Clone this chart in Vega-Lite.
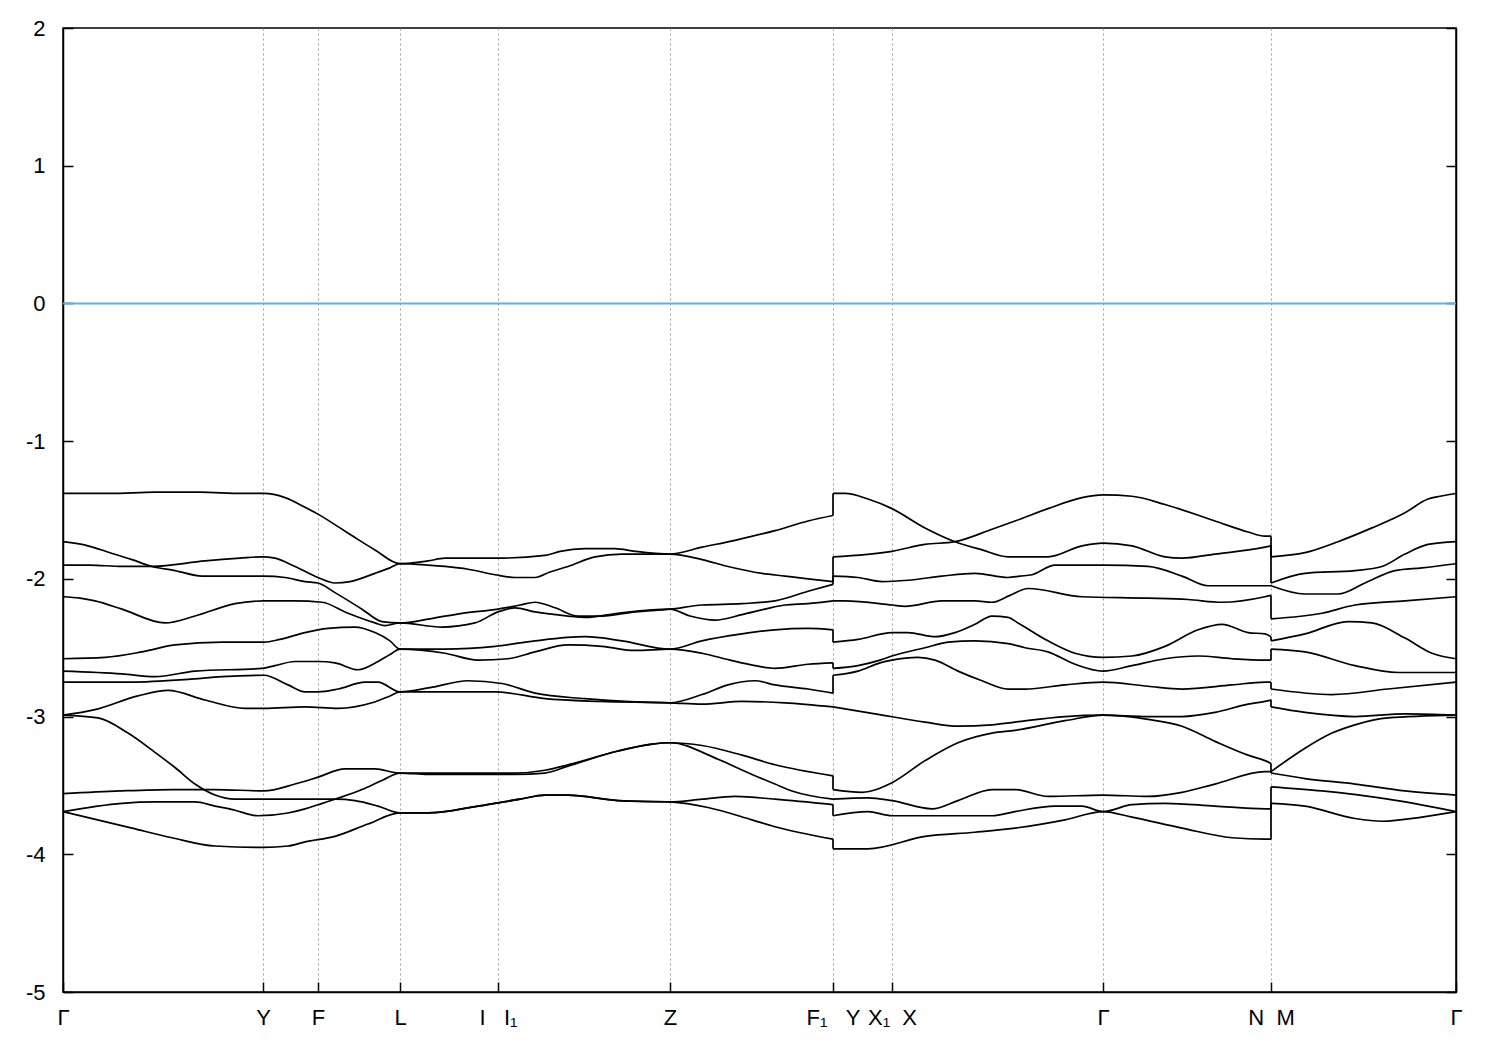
{
"$schema":"https://vega.github.io/schema/vega-lite/v6.json",
"width":1393,"height":964,
"autosize":{"type":"none"},
"padding":{"left":63,"top":28,"right":44,"bottom":58},
"background":"white",
"config":{"view":{"stroke":"black","strokeWidth":1.5}},
"layer":[
{
"data":{"values":[
{"b":1,"s":1,"k":0,"e":-1.38},{"b":1,"s":1,"k":47,"e":-1.38},{"b":1,"s":1,"k":92,"e":-1.37},{"b":1,"s":1,"k":137,"e":-1.37},{"b":1,"s":1,"k":179,"e":-1.38},{"b":1,"s":1,"k":201,"e":-1.38},{"b":1,"s":1,"k":222,"e":-1.41},{"b":1,"s":1,"k":242,"e":-1.48},{"b":1,"s":1,"k":255,"e":-1.53},{"b":1,"s":1,"k":277,"e":-1.63},{"b":1,"s":1,"k":292,"e":-1.70},{"b":1,"s":1,"k":312,"e":-1.79},{"b":1,"s":1,"k":337,"e":-1.89},{"b":1,"s":1,"k":365,"e":-1.87},{"b":1,"s":1,"k":382,"e":-1.85},{"b":1,"s":1,"k":432,"e":-1.85},{"b":1,"s":1,"k":482,"e":-1.83},{"b":1,"s":1,"k":497,"e":-1.80},{"b":1,"s":1,"k":522,"e":-1.78},{"b":1,"s":1,"k":552,"e":-1.78},{"b":1,"s":1,"k":572,"e":-1.80},{"b":1,"s":1,"k":607,"e":-1.82},{"b":1,"s":1,"k":639,"e":-1.77},{"b":1,"s":1,"k":672,"e":-1.72},{"b":1,"s":1,"k":712,"e":-1.65},{"b":1,"s":1,"k":745,"e":-1.58},{"b":1,"s":1,"k":770,"e":-1.54},
{"b":1,"s":2,"k":770,"e":-1.38},{"b":1,"s":2,"k":782,"e":-1.38},{"b":1,"s":2,"k":805,"e":-1.42},{"b":1,"s":2,"k":829,"e":-1.49},{"b":1,"s":2,"k":862,"e":-1.63},{"b":1,"s":2,"k":892,"e":-1.73},{"b":1,"s":2,"k":919,"e":-1.79},{"b":1,"s":2,"k":945,"e":-1.84},{"b":1,"s":2,"k":985,"e":-1.84},{"b":1,"s":2,"k":1019,"e":-1.76},{"b":1,"s":2,"k":1040,"e":-1.74},{"b":1,"s":2,"k":1069,"e":-1.76},{"b":1,"s":2,"k":1102,"e":-1.84},{"b":1,"s":2,"k":1119,"e":-1.85},{"b":1,"s":2,"k":1152,"e":-1.82},{"b":1,"s":2,"k":1202,"e":-1.77},{"b":1,"s":2,"k":1208,"e":-1.76},
{"b":1,"s":3,"k":1208,"e":-2.03},{"b":1,"s":3,"k":1242,"e":-1.96},{"b":1,"s":3,"k":1292,"e":-1.94},{"b":1,"s":3,"k":1319,"e":-1.91},{"b":1,"s":3,"k":1342,"e":-1.82},{"b":1,"s":3,"k":1365,"e":-1.75},{"b":1,"s":3,"k":1393,"e":-1.73},
{"b":2,"s":1,"k":0,"e":-1.90},{"b":2,"s":1,"k":27,"e":-1.90},{"b":2,"s":1,"k":59,"e":-1.91},{"b":2,"s":1,"k":89,"e":-1.91},{"b":2,"s":1,"k":142,"e":-1.87},{"b":2,"s":1,"k":177,"e":-1.85},{"b":2,"s":1,"k":199,"e":-1.84},{"b":2,"s":1,"k":212,"e":-1.85},{"b":2,"s":1,"k":232,"e":-1.91},{"b":2,"s":1,"k":255,"e":-1.99},{"b":2,"s":1,"k":272,"e":-2.03},{"b":2,"s":1,"k":287,"e":-2.02},{"b":2,"s":1,"k":312,"e":-1.96},{"b":2,"s":1,"k":327,"e":-1.92},{"b":2,"s":1,"k":337,"e":-1.89},{"b":2,"s":1,"k":365,"e":-1.90},{"b":2,"s":1,"k":382,"e":-1.91},{"b":2,"s":1,"k":405,"e":-1.93},{"b":2,"s":1,"k":432,"e":-1.97},{"b":2,"s":1,"k":452,"e":-1.99},{"b":2,"s":1,"k":472,"e":-1.99},{"b":2,"s":1,"k":487,"e":-1.95},{"b":2,"s":1,"k":505,"e":-1.91},{"b":2,"s":1,"k":532,"e":-1.84},{"b":2,"s":1,"k":559,"e":-1.82},{"b":2,"s":1,"k":607,"e":-1.82},{"b":2,"s":1,"k":639,"e":-1.86},{"b":2,"s":1,"k":665,"e":-1.91},{"b":2,"s":1,"k":699,"e":-1.96},{"b":2,"s":1,"k":722,"e":-1.98},{"b":2,"s":1,"k":745,"e":-2.00},{"b":2,"s":1,"k":770,"e":-2.02},
{"b":2,"s":2,"k":770,"e":-1.84},{"b":2,"s":2,"k":829,"e":-1.80},{"b":2,"s":2,"k":862,"e":-1.75},{"b":2,"s":2,"k":892,"e":-1.73},{"b":2,"s":2,"k":929,"e":-1.64},{"b":2,"s":2,"k":952,"e":-1.58},{"b":2,"s":2,"k":985,"e":-1.49},{"b":2,"s":2,"k":1019,"e":-1.41},{"b":2,"s":2,"k":1040,"e":-1.39},{"b":2,"s":2,"k":1069,"e":-1.40},{"b":2,"s":2,"k":1102,"e":-1.46},{"b":2,"s":2,"k":1152,"e":-1.58},{"b":2,"s":2,"k":1185,"e":-1.66},{"b":2,"s":2,"k":1202,"e":-1.69},{"b":2,"s":2,"k":1208,"e":-1.69},
{"b":2,"s":3,"k":1208,"e":-1.84},{"b":2,"s":3,"k":1242,"e":-1.81},{"b":2,"s":3,"k":1275,"e":-1.73},{"b":2,"s":3,"k":1309,"e":-1.63},{"b":2,"s":3,"k":1342,"e":-1.52},{"b":2,"s":3,"k":1365,"e":-1.42},{"b":2,"s":3,"k":1377,"e":-1.40},{"b":2,"s":3,"k":1393,"e":-1.38},
{"b":3,"s":1,"k":0,"e":-1.73},{"b":3,"s":1,"k":25,"e":-1.76},{"b":3,"s":1,"k":47,"e":-1.81},{"b":3,"s":1,"k":69,"e":-1.86},{"b":3,"s":1,"k":89,"e":-1.91},{"b":3,"s":1,"k":112,"e":-1.94},{"b":3,"s":1,"k":139,"e":-1.98},{"b":3,"s":1,"k":201,"e":-1.98},{"b":3,"s":1,"k":222,"e":-1.99},{"b":3,"s":1,"k":242,"e":-2.02},{"b":3,"s":1,"k":255,"e":-2.03},{"b":3,"s":1,"k":272,"e":-2.10},{"b":3,"s":1,"k":299,"e":-2.22},{"b":3,"s":1,"k":319,"e":-2.31},{"b":3,"s":1,"k":337,"e":-2.32},{"b":3,"s":1,"k":367,"e":-2.29},{"b":3,"s":1,"k":399,"e":-2.25},{"b":3,"s":1,"k":435,"e":-2.22},{"b":3,"s":1,"k":457,"e":-2.19},{"b":3,"s":1,"k":472,"e":-2.17},{"b":3,"s":1,"k":492,"e":-2.21},{"b":3,"s":1,"k":515,"e":-2.27},{"b":3,"s":1,"k":539,"e":-2.27},{"b":3,"s":1,"k":572,"e":-2.24},{"b":3,"s":1,"k":607,"e":-2.22},{"b":3,"s":1,"k":639,"e":-2.19},{"b":3,"s":1,"k":679,"e":-2.18},{"b":3,"s":1,"k":712,"e":-2.16},{"b":3,"s":1,"k":745,"e":-2.09},{"b":3,"s":1,"k":770,"e":-2.04},
{"b":3,"s":2,"k":770,"e":-1.98},{"b":3,"s":2,"k":795,"e":-1.99},{"b":3,"s":2,"k":819,"e":-2.02},{"b":3,"s":2,"k":845,"e":-2.01},{"b":3,"s":2,"k":879,"e":-1.98},{"b":3,"s":2,"k":912,"e":-1.96},{"b":3,"s":2,"k":945,"e":-1.99},{"b":3,"s":2,"k":957,"e":-1.98},{"b":3,"s":2,"k":969,"e":-1.97},{"b":3,"s":2,"k":992,"e":-1.90},{"b":3,"s":2,"k":1040,"e":-1.90},{"b":3,"s":2,"k":1085,"e":-1.91},{"b":3,"s":2,"k":1119,"e":-1.98},{"b":3,"s":2,"k":1145,"e":-2.05},{"b":3,"s":2,"k":1202,"e":-2.05},{"b":3,"s":2,"k":1208,"e":-2.05},
{"b":3,"s":3,"k":1208,"e":-2.05},{"b":3,"s":3,"k":1242,"e":-2.11},{"b":3,"s":3,"k":1275,"e":-2.11},{"b":3,"s":3,"k":1302,"e":-2.03},{"b":3,"s":3,"k":1332,"e":-1.94},{"b":3,"s":3,"k":1359,"e":-1.92},{"b":3,"s":3,"k":1393,"e":-1.89},
{"b":4,"s":1,"k":0,"e":-2.13},{"b":4,"s":1,"k":17,"e":-2.14},{"b":4,"s":1,"k":32,"e":-2.16},{"b":4,"s":1,"k":59,"e":-2.22},{"b":4,"s":1,"k":102,"e":-2.32},{"b":4,"s":1,"k":132,"e":-2.27},{"b":4,"s":1,"k":172,"e":-2.18},{"b":4,"s":1,"k":201,"e":-2.16},{"b":4,"s":1,"k":232,"e":-2.16},{"b":4,"s":1,"k":259,"e":-2.17},{"b":4,"s":1,"k":285,"e":-2.25},{"b":4,"s":1,"k":312,"e":-2.32},{"b":4,"s":1,"k":322,"e":-2.34},{"b":4,"s":1,"k":337,"e":-2.32},{"b":4,"s":1,"k":379,"e":-2.35},{"b":4,"s":1,"k":412,"e":-2.32},{"b":4,"s":1,"k":435,"e":-2.24},{"b":4,"s":1,"k":452,"e":-2.21},{"b":4,"s":1,"k":472,"e":-2.24},{"b":4,"s":1,"k":505,"e":-2.27},{"b":4,"s":1,"k":522,"e":-2.28},{"b":4,"s":1,"k":555,"e":-2.25},{"b":4,"s":1,"k":607,"e":-2.22},{"b":4,"s":1,"k":627,"e":-2.27},{"b":4,"s":1,"k":652,"e":-2.30},{"b":4,"s":1,"k":679,"e":-2.26},{"b":4,"s":1,"k":702,"e":-2.22},{"b":4,"s":1,"k":722,"e":-2.19},{"b":4,"s":1,"k":745,"e":-2.18},{"b":4,"s":1,"k":770,"e":-2.16},
{"b":4,"s":2,"k":770,"e":-2.16},{"b":4,"s":2,"k":782,"e":-2.16},{"b":4,"s":2,"k":829,"e":-2.19},{"b":4,"s":2,"k":842,"e":-2.20},{"b":4,"s":2,"k":879,"e":-2.16},{"b":4,"s":2,"k":912,"e":-2.16},{"b":4,"s":2,"k":929,"e":-2.17},{"b":4,"s":2,"k":947,"e":-2.12},{"b":4,"s":2,"k":965,"e":-2.07},{"b":4,"s":2,"k":1019,"e":-2.13},{"b":4,"s":2,"k":1085,"e":-2.14},{"b":4,"s":2,"k":1125,"e":-2.15},{"b":4,"s":2,"k":1159,"e":-2.17},{"b":4,"s":2,"k":1202,"e":-2.13},{"b":4,"s":2,"k":1208,"e":-2.12},
{"b":4,"s":3,"k":1208,"e":-2.29},{"b":4,"s":3,"k":1259,"e":-2.25},{"b":4,"s":3,"k":1292,"e":-2.19},{"b":4,"s":3,"k":1342,"e":-2.16},{"b":4,"s":3,"k":1393,"e":-2.13},
{"b":5,"s":1,"k":0,"e":-2.58},{"b":5,"s":1,"k":42,"e":-2.57},{"b":5,"s":1,"k":79,"e":-2.53},{"b":5,"s":1,"k":112,"e":-2.48},{"b":5,"s":1,"k":159,"e":-2.46},{"b":5,"s":1,"k":201,"e":-2.46},{"b":5,"s":1,"k":217,"e":-2.44},{"b":5,"s":1,"k":242,"e":-2.39},{"b":5,"s":1,"k":265,"e":-2.36},{"b":5,"s":1,"k":292,"e":-2.35},{"b":5,"s":1,"k":312,"e":-2.39},{"b":5,"s":1,"k":327,"e":-2.45},{"b":5,"s":1,"k":337,"e":-2.51},{"b":5,"s":1,"k":382,"e":-2.51},{"b":5,"s":1,"k":432,"e":-2.49},{"b":5,"s":1,"k":472,"e":-2.45},{"b":5,"s":1,"k":522,"e":-2.42},{"b":5,"s":1,"k":559,"e":-2.45},{"b":5,"s":1,"k":607,"e":-2.51},{"b":5,"s":1,"k":639,"e":-2.45},{"b":5,"s":1,"k":679,"e":-2.40},{"b":5,"s":1,"k":712,"e":-2.37},{"b":5,"s":1,"k":745,"e":-2.36},{"b":5,"s":1,"k":770,"e":-2.37},
{"b":5,"s":2,"k":770,"e":-2.46},{"b":5,"s":2,"k":795,"e":-2.44},{"b":5,"s":2,"k":829,"e":-2.39},{"b":5,"s":2,"k":845,"e":-2.39},{"b":5,"s":2,"k":872,"e":-2.42},{"b":5,"s":2,"k":892,"e":-2.39},{"b":5,"s":2,"k":912,"e":-2.33},{"b":5,"s":2,"k":929,"e":-2.27},{"b":5,"s":2,"k":945,"e":-2.28},{"b":5,"s":2,"k":955,"e":-2.32},{"b":5,"s":2,"k":985,"e":-2.45},{"b":5,"s":2,"k":1012,"e":-2.54},{"b":5,"s":2,"k":1040,"e":-2.57},{"b":5,"s":2,"k":1069,"e":-2.56},{"b":5,"s":2,"k":1102,"e":-2.49},{"b":5,"s":2,"k":1135,"e":-2.37},{"b":5,"s":2,"k":1159,"e":-2.33},{"b":5,"s":2,"k":1185,"e":-2.39},{"b":5,"s":2,"k":1202,"e":-2.40},{"b":5,"s":2,"k":1208,"e":-2.42},
{"b":5,"s":3,"k":1208,"e":-2.45},{"b":5,"s":3,"k":1242,"e":-2.40},{"b":5,"s":3,"k":1285,"e":-2.31},{"b":5,"s":3,"k":1309,"e":-2.32},{"b":5,"s":3,"k":1342,"e":-2.43},{"b":5,"s":3,"k":1369,"e":-2.54},{"b":5,"s":3,"k":1393,"e":-2.58},
{"b":6,"s":1,"k":0,"e":-2.67},{"b":6,"s":1,"k":59,"e":-2.69},{"b":6,"s":1,"k":92,"e":-2.71},{"b":6,"s":1,"k":132,"e":-2.67},{"b":6,"s":1,"k":199,"e":-2.65},{"b":6,"s":1,"k":212,"e":-2.63},{"b":6,"s":1,"k":232,"e":-2.60},{"b":6,"s":1,"k":255,"e":-2.60},{"b":6,"s":1,"k":272,"e":-2.61},{"b":6,"s":1,"k":295,"e":-2.66},{"b":6,"s":1,"k":315,"e":-2.60},{"b":6,"s":1,"k":327,"e":-2.55},{"b":6,"s":1,"k":337,"e":-2.51},{"b":6,"s":1,"k":382,"e":-2.54},{"b":6,"s":1,"k":415,"e":-2.59},{"b":6,"s":1,"k":445,"e":-2.58},{"b":6,"s":1,"k":472,"e":-2.53},{"b":6,"s":1,"k":505,"e":-2.48},{"b":6,"s":1,"k":539,"e":-2.49},{"b":6,"s":1,"k":572,"e":-2.52},{"b":6,"s":1,"k":607,"e":-2.51},{"b":6,"s":1,"k":639,"e":-2.54},{"b":6,"s":1,"k":667,"e":-2.59},{"b":6,"s":1,"k":692,"e":-2.63},{"b":6,"s":1,"k":712,"e":-2.65},{"b":6,"s":1,"k":745,"e":-2.62},{"b":6,"s":1,"k":770,"e":-2.61},
{"b":6,"s":2,"k":770,"e":-2.65},{"b":6,"s":2,"k":795,"e":-2.63},{"b":6,"s":2,"k":817,"e":-2.59},{"b":6,"s":2,"k":829,"e":-2.56},{"b":6,"s":2,"k":862,"e":-2.50},{"b":6,"s":2,"k":885,"e":-2.46},{"b":6,"s":2,"k":912,"e":-2.45},{"b":6,"s":2,"k":945,"e":-2.47},{"b":6,"s":2,"k":962,"e":-2.50},{"b":6,"s":2,"k":985,"e":-2.53},{"b":6,"s":2,"k":1012,"e":-2.62},{"b":6,"s":2,"k":1040,"e":-2.67},{"b":6,"s":2,"k":1069,"e":-2.63},{"b":6,"s":2,"k":1102,"e":-2.58},{"b":6,"s":2,"k":1135,"e":-2.56},{"b":6,"s":2,"k":1169,"e":-2.58},{"b":6,"s":2,"k":1202,"e":-2.59},{"b":6,"s":2,"k":1208,"e":-2.59},
{"b":6,"s":3,"k":1208,"e":-2.51},{"b":6,"s":3,"k":1242,"e":-2.53},{"b":6,"s":3,"k":1292,"e":-2.63},{"b":6,"s":3,"k":1335,"e":-2.68},{"b":6,"s":3,"k":1393,"e":-2.68},
{"b":7,"s":1,"k":0,"e":-2.75},{"b":7,"s":1,"k":67,"e":-2.75},{"b":7,"s":1,"k":125,"e":-2.73},{"b":7,"s":1,"k":159,"e":-2.71},{"b":7,"s":1,"k":201,"e":-2.70},{"b":7,"s":1,"k":225,"e":-2.77},{"b":7,"s":1,"k":242,"e":-2.82},{"b":7,"s":1,"k":255,"e":-2.82},{"b":7,"s":1,"k":275,"e":-2.80},{"b":7,"s":1,"k":302,"e":-2.75},{"b":7,"s":1,"k":315,"e":-2.75},{"b":7,"s":1,"k":337,"e":-2.82},{"b":7,"s":1,"k":367,"e":-2.79},{"b":7,"s":1,"k":405,"e":-2.74},{"b":7,"s":1,"k":439,"e":-2.76},{"b":7,"s":1,"k":472,"e":-2.83},{"b":7,"s":1,"k":522,"e":-2.87},{"b":7,"s":1,"k":607,"e":-2.90},{"b":7,"s":1,"k":639,"e":-2.84},{"b":7,"s":1,"k":665,"e":-2.77},{"b":7,"s":1,"k":692,"e":-2.74},{"b":7,"s":1,"k":712,"e":-2.77},{"b":7,"s":1,"k":745,"e":-2.80},{"b":7,"s":1,"k":770,"e":-2.83},
{"b":7,"s":2,"k":770,"e":-2.70},{"b":7,"s":2,"k":795,"e":-2.67},{"b":7,"s":2,"k":817,"e":-2.61},{"b":7,"s":2,"k":829,"e":-2.59},{"b":7,"s":2,"k":855,"e":-2.57},{"b":7,"s":2,"k":872,"e":-2.59},{"b":7,"s":2,"k":895,"e":-2.67},{"b":7,"s":2,"k":919,"e":-2.74},{"b":7,"s":2,"k":945,"e":-2.80},{"b":7,"s":2,"k":962,"e":-2.80},{"b":7,"s":2,"k":1002,"e":-2.77},{"b":7,"s":2,"k":1040,"e":-2.75},{"b":7,"s":2,"k":1085,"e":-2.78},{"b":7,"s":2,"k":1119,"e":-2.80},{"b":7,"s":2,"k":1169,"e":-2.77},{"b":7,"s":2,"k":1202,"e":-2.75},{"b":7,"s":2,"k":1208,"e":-2.75},
{"b":7,"s":3,"k":1208,"e":-2.80},{"b":7,"s":3,"k":1269,"e":-2.84},{"b":7,"s":3,"k":1325,"e":-2.80},{"b":7,"s":3,"k":1393,"e":-2.75},
{"b":8,"s":1,"k":0,"e":-2.99},{"b":8,"s":1,"k":32,"e":-2.95},{"b":8,"s":1,"k":75,"e":-2.85},{"b":8,"s":1,"k":105,"e":-2.81},{"b":8,"s":1,"k":142,"e":-2.88},{"b":8,"s":1,"k":182,"e":-2.94},{"b":8,"s":1,"k":201,"e":-2.94},{"b":8,"s":1,"k":242,"e":-2.93},{"b":8,"s":1,"k":275,"e":-2.94},{"b":8,"s":1,"k":309,"e":-2.90},{"b":8,"s":1,"k":327,"e":-2.85},{"b":8,"s":1,"k":337,"e":-2.82},{"b":8,"s":1,"k":382,"e":-2.82},{"b":8,"s":1,"k":432,"e":-2.82},{"b":8,"s":1,"k":482,"e":-2.87},{"b":8,"s":1,"k":537,"e":-2.89},{"b":8,"s":1,"k":607,"e":-2.90},{"b":8,"s":1,"k":639,"e":-2.91},{"b":8,"s":1,"k":679,"e":-2.89},{"b":8,"s":1,"k":722,"e":-2.90},{"b":8,"s":1,"k":770,"e":-2.93},
{"b":8,"s":2,"k":770,"e":-2.93},{"b":8,"s":2,"k":812,"e":-2.98},{"b":8,"s":2,"k":862,"e":-3.04},{"b":8,"s":2,"k":895,"e":-3.07},{"b":8,"s":2,"k":929,"e":-3.06},{"b":8,"s":2,"k":952,"e":-3.04},{"b":8,"s":2,"k":1002,"e":-3.00},{"b":8,"s":2,"k":1040,"e":-2.99},{"b":8,"s":2,"k":1085,"e":-3.00},{"b":8,"s":2,"k":1119,"e":-3.00},{"b":8,"s":2,"k":1152,"e":-2.97},{"b":8,"s":2,"k":1185,"e":-2.91},{"b":8,"s":2,"k":1202,"e":-2.89},{"b":8,"s":2,"k":1208,"e":-2.88},
{"b":8,"s":3,"k":1208,"e":-2.93},{"b":8,"s":3,"k":1242,"e":-2.97},{"b":8,"s":3,"k":1292,"e":-3.00},{"b":8,"s":3,"k":1342,"e":-2.98},{"b":8,"s":3,"k":1393,"e":-2.99},
{"b":9,"s":1,"k":0,"e":-3.56},{"b":9,"s":1,"k":57,"e":-3.54},{"b":9,"s":1,"k":109,"e":-3.53},{"b":9,"s":1,"k":152,"e":-3.53},{"b":9,"s":1,"k":201,"e":-3.54},{"b":9,"s":1,"k":232,"e":-3.49},{"b":9,"s":1,"k":242,"e":-3.47},{"b":9,"s":1,"k":255,"e":-3.44},{"b":9,"s":1,"k":282,"e":-3.38},{"b":9,"s":1,"k":312,"e":-3.38},{"b":9,"s":1,"k":337,"e":-3.41},{"b":9,"s":1,"k":365,"e":-3.41},{"b":9,"s":1,"k":452,"e":-3.41},{"b":9,"s":1,"k":482,"e":-3.39},{"b":9,"s":1,"k":505,"e":-3.35},{"b":9,"s":1,"k":555,"e":-3.25},{"b":9,"s":1,"k":589,"e":-3.20},{"b":9,"s":1,"k":607,"e":-3.19},{"b":9,"s":1,"k":639,"e":-3.21},{"b":9,"s":1,"k":679,"e":-3.28},{"b":9,"s":1,"k":712,"e":-3.35},{"b":9,"s":1,"k":770,"e":-3.43},
{"b":9,"s":2,"k":770,"e":-3.53},{"b":9,"s":2,"k":799,"e":-3.55},{"b":9,"s":2,"k":829,"e":-3.48},{"b":9,"s":2,"k":862,"e":-3.32},{"b":9,"s":2,"k":895,"e":-3.19},{"b":9,"s":2,"k":929,"e":-3.12},{"b":9,"s":2,"k":952,"e":-3.10},{"b":9,"s":2,"k":1002,"e":-3.03},{"b":9,"s":2,"k":1040,"e":-2.99},{"b":9,"s":2,"k":1085,"e":-3.02},{"b":9,"s":2,"k":1119,"e":-3.07},{"b":9,"s":2,"k":1152,"e":-3.18},{"b":9,"s":2,"k":1185,"e":-3.28},{"b":9,"s":2,"k":1202,"e":-3.32},{"b":9,"s":2,"k":1208,"e":-3.34},
{"b":9,"s":3,"k":1208,"e":-3.40},{"b":9,"s":3,"k":1242,"e":-3.23},{"b":9,"s":3,"k":1269,"e":-3.12},{"b":9,"s":3,"k":1292,"e":-3.06},{"b":9,"s":3,"k":1325,"e":-3.01},{"b":9,"s":3,"k":1393,"e":-2.99},
{"b":10,"s":1,"k":0,"e":-3.69},{"b":10,"s":1,"k":59,"e":-3.63},{"b":10,"s":1,"k":92,"e":-3.62},{"b":10,"s":1,"k":132,"e":-3.62},{"b":10,"s":1,"k":152,"e":-3.65},{"b":10,"s":1,"k":172,"e":-3.68},{"b":10,"s":1,"k":195,"e":-3.72},{"b":10,"s":1,"k":225,"e":-3.70},{"b":10,"s":1,"k":242,"e":-3.67},{"b":10,"s":1,"k":255,"e":-3.64},{"b":10,"s":1,"k":272,"e":-3.60},{"b":10,"s":1,"k":299,"e":-3.53},{"b":10,"s":1,"k":320,"e":-3.46},{"b":10,"s":1,"k":337,"e":-3.41},{"b":10,"s":1,"k":365,"e":-3.42},{"b":10,"s":1,"k":452,"e":-3.42},{"b":10,"s":1,"k":482,"e":-3.41},{"b":10,"s":1,"k":505,"e":-3.36},{"b":10,"s":1,"k":555,"e":-3.25},{"b":10,"s":1,"k":589,"e":-3.20},{"b":10,"s":1,"k":607,"e":-3.19},{"b":10,"s":1,"k":655,"e":-3.31},{"b":10,"s":1,"k":689,"e":-3.42},{"b":10,"s":1,"k":712,"e":-3.49},{"b":10,"s":1,"k":729,"e":-3.54},{"b":10,"s":1,"k":770,"e":-3.60},
{"b":10,"s":2,"k":770,"e":-3.60},{"b":10,"s":2,"k":805,"e":-3.59},{"b":10,"s":2,"k":829,"e":-3.61},{"b":10,"s":2,"k":869,"e":-3.67},{"b":10,"s":2,"k":895,"e":-3.61},{"b":10,"s":2,"k":929,"e":-3.53},{"b":10,"s":2,"k":952,"e":-3.53},{"b":10,"s":2,"k":985,"e":-3.58},{"b":10,"s":2,"k":1040,"e":-3.57},{"b":10,"s":2,"k":1085,"e":-3.58},{"b":10,"s":2,"k":1119,"e":-3.55},{"b":10,"s":2,"k":1152,"e":-3.49},{"b":10,"s":2,"k":1202,"e":-3.40},{"b":10,"s":2,"k":1208,"e":-3.40},
{"b":10,"s":3,"k":1208,"e":-3.41},{"b":10,"s":3,"k":1242,"e":-3.45},{"b":10,"s":3,"k":1292,"e":-3.49},{"b":10,"s":3,"k":1342,"e":-3.54},{"b":10,"s":3,"k":1393,"e":-3.57},
{"b":11,"s":1,"k":0,"e":-3.69},{"b":11,"s":1,"k":69,"e":-3.81},{"b":11,"s":1,"k":109,"e":-3.88},{"b":11,"s":1,"k":152,"e":-3.94},{"b":11,"s":1,"k":201,"e":-3.95},{"b":11,"s":1,"k":225,"e":-3.94},{"b":11,"s":1,"k":242,"e":-3.91},{"b":11,"s":1,"k":272,"e":-3.87},{"b":11,"s":1,"k":305,"e":-3.78},{"b":11,"s":1,"k":337,"e":-3.70},{"b":11,"s":1,"k":365,"e":-3.70},{"b":11,"s":1,"k":415,"e":-3.65},{"b":11,"s":1,"k":457,"e":-3.60},{"b":11,"s":1,"k":482,"e":-3.57},{"b":11,"s":1,"k":505,"e":-3.57},{"b":11,"s":1,"k":555,"e":-3.61},{"b":11,"s":1,"k":607,"e":-3.62},{"b":11,"s":1,"k":639,"e":-3.60},{"b":11,"s":1,"k":672,"e":-3.58},{"b":11,"s":1,"k":712,"e":-3.60},{"b":11,"s":1,"k":770,"e":-3.64},
{"b":11,"s":2,"k":770,"e":-3.72},{"b":11,"s":2,"k":805,"e":-3.69},{"b":11,"s":2,"k":829,"e":-3.72},{"b":11,"s":2,"k":879,"e":-3.72},{"b":11,"s":2,"k":929,"e":-3.72},{"b":11,"s":2,"k":952,"e":-3.69},{"b":11,"s":2,"k":992,"e":-3.65},{"b":11,"s":2,"k":1019,"e":-3.65},{"b":11,"s":2,"k":1040,"e":-3.69},{"b":11,"s":2,"k":1069,"e":-3.64},{"b":11,"s":2,"k":1102,"e":-3.63},{"b":11,"s":2,"k":1152,"e":-3.65},{"b":11,"s":2,"k":1202,"e":-3.67},{"b":11,"s":2,"k":1208,"e":-3.67},
{"b":11,"s":3,"k":1208,"e":-3.51},{"b":11,"s":3,"k":1259,"e":-3.54},{"b":11,"s":3,"k":1325,"e":-3.60},{"b":11,"s":3,"k":1393,"e":-3.69},
{"b":12,"s":1,"k":0,"e":-2.99},{"b":12,"s":1,"k":35,"e":-3.01},{"b":12,"s":1,"k":65,"e":-3.12},{"b":12,"s":1,"k":92,"e":-3.26},{"b":12,"s":1,"k":112,"e":-3.37},{"b":12,"s":1,"k":132,"e":-3.49},{"b":12,"s":1,"k":152,"e":-3.57},{"b":12,"s":1,"k":172,"e":-3.60},{"b":12,"s":1,"k":201,"e":-3.60},{"b":12,"s":1,"k":232,"e":-3.60},{"b":12,"s":1,"k":272,"e":-3.60},{"b":12,"s":1,"k":292,"e":-3.61},{"b":12,"s":1,"k":315,"e":-3.65},{"b":12,"s":1,"k":337,"e":-3.70},{"b":12,"s":1,"k":365,"e":-3.70},{"b":12,"s":1,"k":415,"e":-3.65},{"b":12,"s":1,"k":457,"e":-3.60},{"b":12,"s":1,"k":482,"e":-3.57},{"b":12,"s":1,"k":505,"e":-3.57},{"b":12,"s":1,"k":555,"e":-3.61},{"b":12,"s":1,"k":607,"e":-3.62},{"b":12,"s":1,"k":645,"e":-3.66},{"b":12,"s":1,"k":689,"e":-3.75},{"b":12,"s":1,"k":712,"e":-3.80},{"b":12,"s":1,"k":770,"e":-3.89},
{"b":12,"s":2,"k":770,"e":-3.96},{"b":12,"s":2,"k":805,"e":-3.96},{"b":12,"s":2,"k":862,"e":-3.87},{"b":12,"s":2,"k":912,"e":-3.84},{"b":12,"s":2,"k":952,"e":-3.81},{"b":12,"s":2,"k":1002,"e":-3.75},{"b":12,"s":2,"k":1040,"e":-3.69},{"b":12,"s":2,"k":1069,"e":-3.73},{"b":12,"s":2,"k":1119,"e":-3.81},{"b":12,"s":2,"k":1169,"e":-3.88},{"b":12,"s":2,"k":1202,"e":-3.89},{"b":12,"s":2,"k":1208,"e":-3.89},
{"b":12,"s":3,"k":1208,"e":-3.63},{"b":12,"s":3,"k":1242,"e":-3.65},{"b":12,"s":3,"k":1292,"e":-3.74},{"b":12,"s":3,"k":1319,"e":-3.76},{"b":12,"s":3,"k":1359,"e":-3.73},{"b":12,"s":3,"k":1393,"e":-3.69}
]},
"mark":{"type":"line","color":"black","strokeWidth":1.7,"interpolate":"monotone"},
"encoding":{
"x":{"field":"k","type":"quantitative","scale":{"domain":[0,1393],"nice":false,"zero":false},
"axis":{"values":[0,200,255,337,435,607,770,829,1040,1208,1393],
"labelExpr":"(datum.value==0||datum.value==1040||datum.value==1393)?'Γ':datum.value==200?'Y':datum.value==255?'F':datum.value==337?'L':datum.value==435?'I\u00a0\u00a0\u00a0I₁':datum.value==607?'Z':datum.value==770?'F₁\u00a0\u00a0\u00a0Y\u00a0':datum.value==829?'X₁\u00a0\u00a0X\u00a0':datum.value==1208?'N\u00a0\u00a0M':''",
"title":null,"grid":true,"gridColor":"#a0a0a0","gridDash":[2,3],"gridWidth":1,
"tickSize":-10,"tickColor":"black","tickWidth":1.5,"domainColor":"black","domainWidth":1.5,
"labelFont":"Liberation Sans","labelFontSize":22,"labelColor":"black","labelPadding":25,
"labelFlush":false,"labelOverlap":false,"labelBound":false}},
"y":{"field":"e","type":"quantitative","scale":{"domain":[-5,2],"nice":false,"zero":false},
"axis":{"values":[-5,-4,-3,-2,-1,0,1,2],"labelExpr":"toString(datum.value)","title":null,"grid":false,
"tickSize":-10,"tickColor":"black","tickWidth":1.5,"domainColor":"black","domainWidth":1.5,
"labelFont":"Liberation Sans","labelFontSize":22,"labelColor":"black","labelPadding":28,
"labelFlush":false,"labelOverlap":false}},
"detail":[{"field":"b","type":"nominal"},{"field":"s","type":"nominal"}],
"order":{"value":null}
}
},
{
"data":{"values":[
{"k":770,"e":-1.54,"e2":-1.38},{"k":770,"e":-2.02,"e2":-1.84},{"k":770,"e":-2.04,"e2":-1.98},{"k":770,"e":-2.37,"e2":-2.46},{"k":770,"e":-2.61,"e2":-2.65},{"k":770,"e":-2.83,"e2":-2.70},{"k":770,"e":-3.43,"e2":-3.53},{"k":770,"e":-3.64,"e2":-3.72},{"k":770,"e":-3.89,"e2":-3.96},
{"k":1208,"e":-1.76,"e2":-2.03},{"k":1208,"e":-1.69,"e2":-1.84},{"k":1208,"e":-2.12,"e2":-2.29},{"k":1208,"e":-2.42,"e2":-2.45},{"k":1208,"e":-2.59,"e2":-2.51},{"k":1208,"e":-2.75,"e2":-2.80},{"k":1208,"e":-2.88,"e2":-2.93},{"k":1208,"e":-3.34,"e2":-3.40},{"k":1208,"e":-3.40,"e2":-3.41},{"k":1208,"e":-3.67,"e2":-3.51},{"k":1208,"e":-3.89,"e2":-3.63}
]},
"mark":{"type":"rule","color":"black","strokeWidth":1.7},
"encoding":{
"x":{"field":"k","type":"quantitative"},
"y":{"field":"e","type":"quantitative","scale":{"domain":[-5,2],"nice":false,"zero":false},"axis":null},
"y2":{"field":"e2"}
}
},
{
"data":{"values":[{}]},
"mark":{"type":"rule","color":"#56b4e9","strokeWidth":2},
"encoding":{
"y":{"datum":0,"type":"quantitative","scale":{"domain":[-5,2],"nice":false,"zero":false},
"axis":{"orient":"right","values":[-5,-4,-3,-2,-1,0,1,2],"labels":false,"title":null,"grid":false,
"tickSize":-10,"tickColor":"black","tickWidth":1.5,"domainColor":"black","domainWidth":1.5}}
}
}
],
"resolve":{"scale":{"y":"independent"}}
}
